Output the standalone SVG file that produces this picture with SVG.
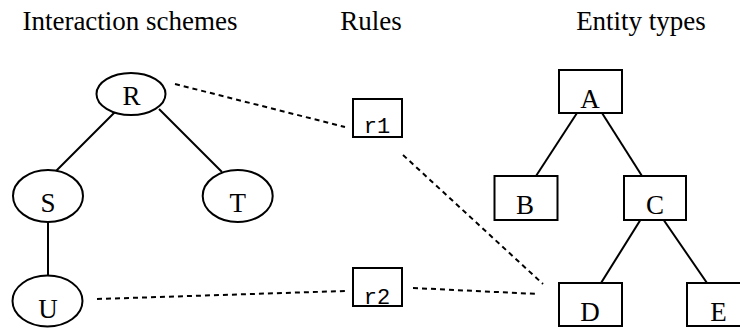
<svg xmlns="http://www.w3.org/2000/svg" width="740" height="328" viewBox="0 0 740 328">
  <style>
    .title { font-family: "Liberation Serif", "Times New Roman", serif; font-size: 27px; fill: #000; text-anchor: middle; }
    .label { font-family: "Liberation Serif", "Times New Roman", serif; font-size: 27px; fill: #000; text-anchor: middle; }
    .rule-label { font-family: "Liberation Mono", "Courier New", monospace; font-size: 22px; fill: #000; text-anchor: middle; }
    .shape { fill: #fff; stroke: #000; stroke-width: 2; }
    .edge { stroke: #000; stroke-width: 2; fill: none; }
    .link { stroke: #000; stroke-width: 2; fill: none; stroke-dasharray: 5 4; }
  </style>

  <!-- column headings -->
  <text class="title" x="130" y="30">Interaction schemes</text>
  <text class="title" x="371" y="30">Rules</text>
  <text class="title" x="641" y="30">Entity types</text>

  <!-- tree edges and rule links -->
  <g id="connectors">
    <line class="edge" x1="117" y1="110" x2="55" y2="172"/>
    <line class="edge" x1="159" y1="109" x2="222" y2="172"/>
    <line class="edge" x1="48" y1="215" x2="48" y2="280"/>
    <line class="edge" x1="577" y1="113" x2="536" y2="176"/>
    <line class="edge" x1="602" y1="113" x2="642" y2="176"/>
    <line class="edge" x1="641" y1="219" x2="601" y2="283"/>
    <line class="edge" x1="663" y1="219" x2="707" y2="283"/>
    <line class="link" x1="175" y1="84" x2="345" y2="127"/>
    <line class="link" x1="97" y1="299" x2="345" y2="291"/>
    <line class="link" x1="403" y1="155" x2="543" y2="284"/>
    <line class="link" x1="413" y1="288" x2="538" y2="294"/>
  </g>

  <!-- interaction schemes -->
  <g id="node-R"><ellipse class="shape" cx="131" cy="94" rx="34.5" ry="21"/><text class="label" x="131.5" y="105">R</text></g>
  <g id="node-S"><ellipse class="shape" cx="48" cy="196" rx="35" ry="26"/><text class="label" x="48" y="211.5">S</text></g>
  <g id="node-T"><ellipse class="shape" cx="237.7" cy="196" rx="35" ry="26"/><text class="label" x="237.7" y="211.5">T</text></g>
  <g id="node-U"><ellipse class="shape" cx="47.5" cy="301" rx="35" ry="25.5"/><text class="label" x="48" y="318">U</text></g>

  <!-- rules -->
  <g id="rule-r1"><rect class="shape" x="353" y="99" width="49" height="38"/><text class="rule-label" x="377" y="133">r1</text></g>
  <g id="rule-r2"><rect class="shape" x="353" y="268" width="49" height="38"/><text class="rule-label" x="377" y="304">r2</text></g>

  <!-- entity types -->
  <g id="entity-A"><rect class="shape" x="559" y="70" width="63" height="43"/><text class="label" x="590" y="108">A</text></g>
  <g id="entity-B"><rect class="shape" x="494.5" y="176" width="63" height="44"/><text class="label" x="525" y="214">B</text></g>
  <g id="entity-C"><rect class="shape" x="624" y="176" width="62" height="44"/><text class="label" x="655" y="214">C</text></g>
  <g id="entity-D"><rect class="shape" x="559" y="283" width="63" height="43"/><text class="label" x="590" y="320.5">D</text></g>
  <g id="entity-E"><rect class="shape" x="687" y="283" width="63" height="43"/><text class="label" x="718.5" y="320.5">E</text></g>
</svg>
